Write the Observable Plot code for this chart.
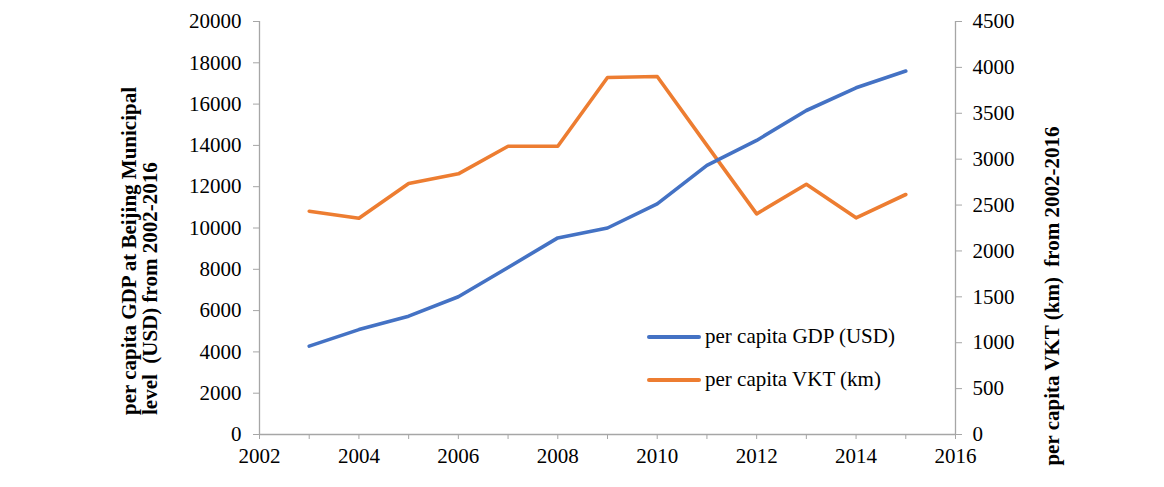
<!DOCTYPE html>
<html>
<head>
<meta charset="utf-8">
<script src="https://cdn.jsdelivr.net/npm/d3@7"></script>
<script src="https://cdn.jsdelivr.net/npm/@observablehq/plot@0.6"></script>
<style>
  html, body { margin: 0; padding: 0; background: #fff; }
  #wrap { position: relative; width: 1164px; height: 487px; font-family: "Liberation Serif", "Times New Roman", serif; color: #000; }
  .t { position: absolute; white-space: pre; font-family: "Liberation Serif", "Times New Roman", serif; }
  .ttl { font-weight: bold; font-size: 21px; line-height: 21px; text-align: left; transform: translate(-50%, -50%) rotate(-90deg); }
  .leg { font-size: 21px; line-height: 24px; }
  .sw { position: absolute; width: 54px; height: 4px; border-radius: 2px; }
</style>
</head>
<body>
<div id="wrap"></div>
<script>
const years = [2003, 2004, 2005, 2006, 2007, 2008, 2009, 2010, 2011, 2012, 2013, 2014, 2015];
const gdp   = [4280, 5080, 5730, 6670, 8090, 9520, 10000, 11170, 13030, 14240, 15690, 16790, 17600];
const vkt   = [2433, 2357, 2735, 2840, 3141, 3141, 3890, 3900, 3150, 2404, 2727, 2361, 2615];
const leftTicks = d3.range(0, 20001, 2000);
const rightTicks = d3.range(0, 4501, 500);
const xTicks = d3.range(2002, 2017, 1);
const seriesNames = ["per capita GDP (USD)", "per capita VKT (km)"];
const colors = ["#4472C4", "#ED7D31"];

const LEFT_MAX = 20000, RIGHT_MAX = 4500;
const k = LEFT_MAX / RIGHT_MAX;

const gdpData = years.map((y, i) => ({year: y, v: gdp[i]}));
const vktData = years.map((y, i) => ({year: y, v: vkt[i] * k}));

const axisGray = "#a6a6a6";

const chart = Plot.plot({
  width: 1164,
  height: 487,
  marginLeft: 259,
  marginRight: 209,
  marginTop: 21,
  marginBottom: 53,
  style: {fontFamily: "'Liberation Serif', 'Times New Roman', serif", fontSize: "21px", background: "#fff", color: "#000"},
  x: {domain: [2002, 2016], label: null},
  y: {domain: [0, LEFT_MAX], label: null},
  marks: [
    Plot.ruleY([0], {stroke: axisGray, strokeWidth: 1.3}),
    Plot.ruleX([2002, 2016], {stroke: axisGray, strokeWidth: 1.3}),
    Plot.axisX({ticks: xTicks, tickFormat: d => (d % 2 === 0 ? String(d) : ""), tickSize: 5, tickPadding: 9, stroke: axisGray, fill: "#000", fontSize: 21, label: null}),
    Plot.axisY({anchor: "left", ticks: leftTicks, tickFormat: d => String(d), tickSize: 6, tickPadding: 12, stroke: axisGray, fill: "#000", fontSize: 21, label: null}),
    Plot.axisY({anchor: "right", ticks: rightTicks.map(v => v * k), tickFormat: d => String(Math.round(d / k)), tickSize: 6, tickPadding: 11, stroke: axisGray, fill: "#000", fontSize: 21, label: null}),
    Plot.line(vktData, {x: "year", y: "v", stroke: colors[1], strokeWidth: 3.6, strokeLinejoin: "round", strokeLinecap: "round"}),
    Plot.line(gdpData, {x: "year", y: "v", stroke: colors[0], strokeWidth: 3.6, strokeLinejoin: "round", strokeLinecap: "round"})
  ]
});

const wrap = document.getElementById("wrap");
wrap.appendChild(chart);

function addDiv(cls, text, style) {
  const d = document.createElement("div");
  d.className = cls;
  d.textContent = text;
  Object.assign(d.style, style);
  wrap.appendChild(d);
  return d;
}

// Axis titles
addDiv("t ttl", "per capita GDP at Beijing Municipal\nlevel  (USD) from 2002-2016", {left: "140px", top: "251px"});
addDiv("t ttl", "per capita VKT (km)  from 2002-2016", {left: "1052px", top: "296px"});

// Legend
const legY = [337, 380];
seriesNames.forEach((name, i) => {
  addDiv("sw", "", {left: "647px", top: (legY[i] - 2) + "px", background: colors[i]});
  addDiv("t leg", name, {left: "705px", top: (legY[i] - 13) + "px"});
});
</script>
</body>
</html>
